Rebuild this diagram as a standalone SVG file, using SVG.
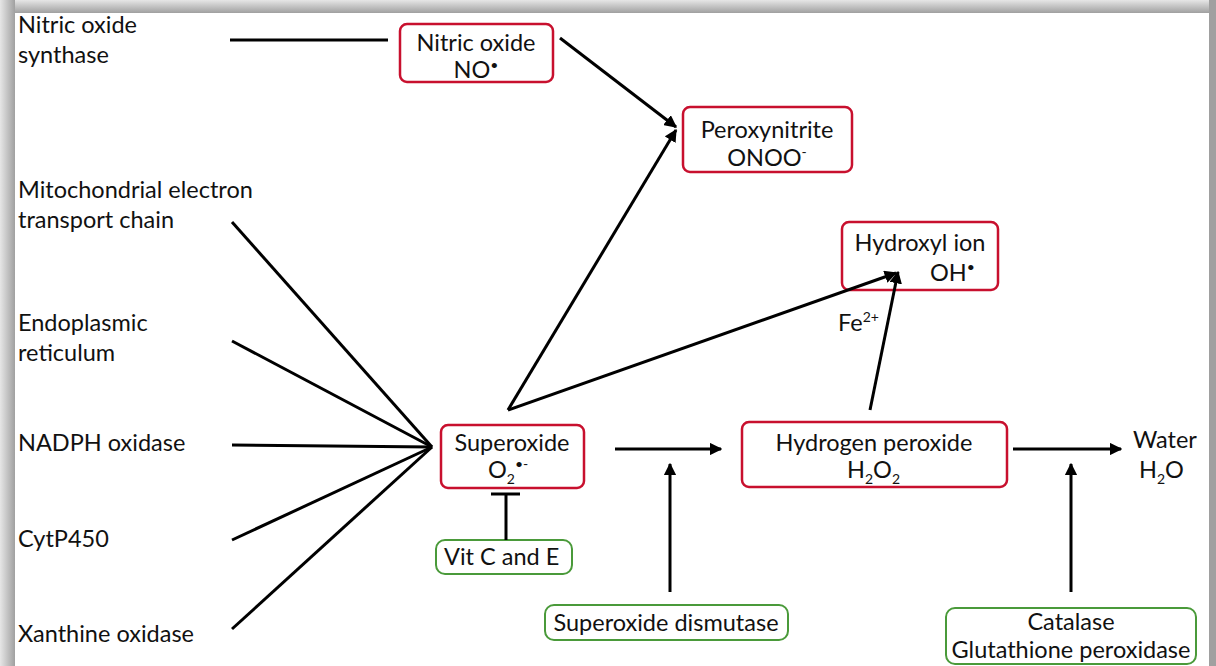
<svg xmlns="http://www.w3.org/2000/svg" width="1216" height="666" viewBox="0 0 1216 666">
<defs>
<linearGradient id="topg" x1="0" y1="0" x2="0" y2="1"><stop offset="0" stop-color="#e6e6e6"/><stop offset="1" stop-color="#a0a0a0"/></linearGradient>
<linearGradient id="leftg" x1="0" y1="0" x2="1" y2="0"><stop offset="0" stop-color="#e6e6e6"/><stop offset="1" stop-color="#a0a0a0"/></linearGradient>
<marker id="ah" viewBox="0 0 10 10" refX="9" refY="5" markerWidth="4.2" markerHeight="4.2" orient="auto" markerUnits="strokeWidth"><path d="M0,0 L10,5 L0,10 z" fill="#000"/></marker>
</defs>
<style>
text{font-family:Lato,"Open Sans","Liberation Sans",sans-serif;font-size:23.5px;fill:#111}
.c{text-anchor:middle}
.s{font-size:14px}
.red{fill:#fff;stroke:#c8102e;stroke-width:2.5}
.grn{fill:#fff;stroke:#4a9a3a;stroke-width:2}
.ln{stroke:#000;stroke-width:3;fill:none}
.ar{stroke:#000;stroke-width:3;fill:none;marker-end:url(#ah)}
</style>
<rect width="1216" height="666" fill="#fff"/>
<rect x="0" y="0" width="1216" height="13" fill="url(#topg)"/>
<rect x="0" y="0" width="15" height="666" fill="url(#leftg)"/>
<rect x="1209" y="0" width="7" height="666" fill="#a0a0a0"/>

<g id="sources">
<text x="18" y="33">Nitric oxide</text><text x="18" y="63">synthase</text>
<text x="18" y="198">Mitochondrial electron</text><text x="18" y="228">transport chain</text>
<text x="18" y="331">Endoplasmic</text><text x="18" y="361">reticulum</text>
<text x="18" y="451">NADPH oxidase</text>
<text x="18" y="547">CytP450</text>
<text x="18" y="642">Xanthine oxidase</text>
</g>

<g id="no">
<rect class="red" x="400" y="24" width="153" height="58" rx="7"/>
<text class="c" x="476" y="51">Nitric oxide</text>
<text class="c" x="476" y="78">NO<tspan class="s" dy="-8">•</tspan></text>
</g>
<g id="onoo">
<rect class="red" x="683" y="107" width="169" height="65" rx="7"/>
<text class="c" x="767" y="138">Peroxynitrite</text>
<text class="c" x="767" y="166">ONOO<tspan class="s" dy="-9">-</tspan></text>
</g>
<g id="oh">
<rect class="red" x="842" y="222" width="156" height="68" rx="7"/>
<text class="c" x="920" y="251">Hydroxyl ion</text>
<text x="930" y="281">OH<tspan class="s" dy="-9">•</tspan></text>
</g>
<g id="superoxide">
<rect class="red" x="441" y="425" width="143" height="63" rx="7"/>
<text class="c" x="512" y="451">Superoxide</text>
<text x="488" y="478">O<tspan class="s" dy="6">2</tspan><tspan class="s" dy="-15">•-</tspan></text>
</g>
<g id="h2o2">
<rect class="red" x="742" y="422" width="265" height="65" rx="7"/>
<text class="c" x="874" y="451">Hydrogen peroxide</text>
<text x="847" y="478">H<tspan class="s" dy="6">2</tspan><tspan dy="-6">O</tspan><tspan class="s" dy="6">2</tspan></text>
</g>
<g id="water">
<text x="1133" y="448">Water</text>
<text x="1139" y="478">H<tspan class="s" dy="6">2</tspan><tspan dy="-6">O</tspan></text>
</g>
<g id="vit">
<rect class="grn" x="436" y="540" width="136" height="34" rx="9"/>
<text x="444" y="565">Vit  C and E</text>
</g>
<g id="sod">
<rect class="grn" x="545" y="605" width="243" height="35" rx="9"/>
<text class="c" x="666" y="631">Superoxide dismutase</text>
</g>
<g id="cat">
<rect class="grn" x="946" y="608" width="250" height="56" rx="9"/>
<text class="c" x="1071" y="630">Catalase</text>
<text class="c" x="1071" y="658">Glutathione peroxidase</text>
</g>
<g id="fe">
<text x="838" y="331">Fe<tspan class="s" dy="-9">2+</tspan></text>
</g>

<g id="connectors">
<line class="ln" x1="230" y1="40" x2="388" y2="40"/>
<line class="ar" x1="560" y1="38" x2="676" y2="127"/>
<line class="ar" x1="508" y1="410" x2="676" y2="130"/>
<line class="ar" x1="508" y1="410" x2="896" y2="273"/>
<line class="ar" x1="870" y1="410" x2="898" y2="272"/>
<line class="ln" x1="232" y1="222" x2="432" y2="447"/>
<line class="ln" x1="232" y1="341" x2="432" y2="447"/>
<line class="ln" x1="232" y1="445" x2="432" y2="447"/>
<line class="ln" x1="232" y1="540" x2="432" y2="447"/>
<line class="ln" x1="232" y1="629" x2="432" y2="447"/>
<line class="ar" x1="615" y1="449" x2="721" y2="449"/>
<line class="ar" x1="1013" y1="449" x2="1121" y2="449"/>
<line class="ln" x1="506" y1="494" x2="506" y2="540"/>
<line class="ln" x1="491" y1="494" x2="520" y2="494"/>
<line class="ar" x1="670" y1="592" x2="670" y2="464"/>
<line class="ar" x1="1071" y1="592" x2="1071" y2="464"/>
</g>
</svg>
